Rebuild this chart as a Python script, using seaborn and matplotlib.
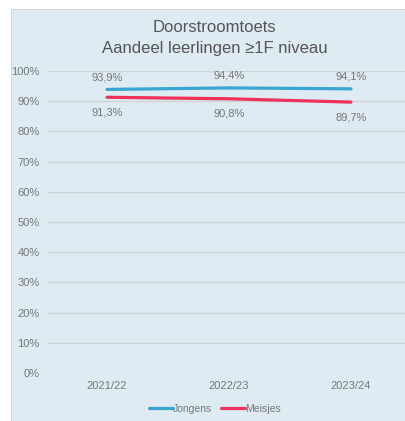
import pandas as pd
import seaborn as sns
import matplotlib.pyplot as plt
from matplotlib.patches import Rectangle

# data
jaren = ["2021/22", "2022/23", "2023/24"]
jongens = [93.9, 94.4, 94.1]
meisjes = [91.3, 90.8, 89.7]

df = pd.DataFrame({
    "jaar": jaren * 2,
    "aandeel": jongens + meisjes,
    "groep": ["Jongens"] * 3 + ["Meisjes"] * 3,
})

sns.set_theme(style="white")
plt.rcParams["font.family"] = ["Liberation Sans", "DejaVu Sans"]

bg = "#deebf3"
kleuren = {"Jongens": "#38a5d2", "Meisjes": "#ef325b"}
grijs = "#777777"

fig = plt.figure(figsize=(4.05, 4.21), dpi=100, facecolor="white")
fig.patches.append(Rectangle((11 / 405, 0.0), 1.0, 1 - 9 / 421, transform=fig.transFigure,
                             facecolor=bg, edgecolor="#d0d0d0", linewidth=0.6, zorder=-5))

ax = fig.add_axes([48 / 405, (421 - 373) / 421, 1 - 48 / 405, (373 - 71) / 421])
ax.patch.set_alpha(0)

sns.lineplot(data=df, x="jaar", y="aandeel", hue="groep", palette=kleuren,
             linewidth=2.3, ax=ax, sort=False)

ax.set_ylim(0, 100)
ax.set_xlim(-0.484, 2.443)
ax.set_yticks(range(0, 101, 10))
ax.set_yticklabels([f"{v}%" for v in range(0, 101, 10)])
ax.yaxis.grid(True, color="#cfd3d6", linewidth=1)
ax.set_axisbelow(True)
for s in ax.spines.values():
    s.set_visible(False)
ax.tick_params(axis="both", length=0, labelsize=8, labelcolor=grijs, pad=6)
ax.set_xlabel("")
ax.set_ylabel("")

for i, (j, m) in enumerate(zip(jongens, meisjes)):
    ax.text(i, j + 4, f"{j:.1f}%".replace(".", ","), ha="center", va="center",
            fontsize=8, color=grijs)
    ax.text(i, m - 5, f"{m:.1f}%".replace(".", ","), ha="center", va="center",
            fontsize=8, color=grijs)

fig.text(0.53, 1 - 28 / 421, "Doorstroomtoets", ha="center", va="center",
         fontsize=12, color="#555555")
fig.text(0.53, 1 - 49 / 421, "Aandeel leerlingen \u22651F niveau", ha="center", va="center",
         fontsize=12, color="#555555")

leg = ax.legend(loc="center", bbox_to_anchor=(215 / 405, 12 / 421), bbox_transform=fig.transFigure,
                ncol=2, frameon=False, fontsize=7.5, handlelength=2.3, handletextpad=0.0,
                columnspacing=0.9, labelcolor=grijs)

fig.savefig("out.png", dpi=100, facecolor="white")
